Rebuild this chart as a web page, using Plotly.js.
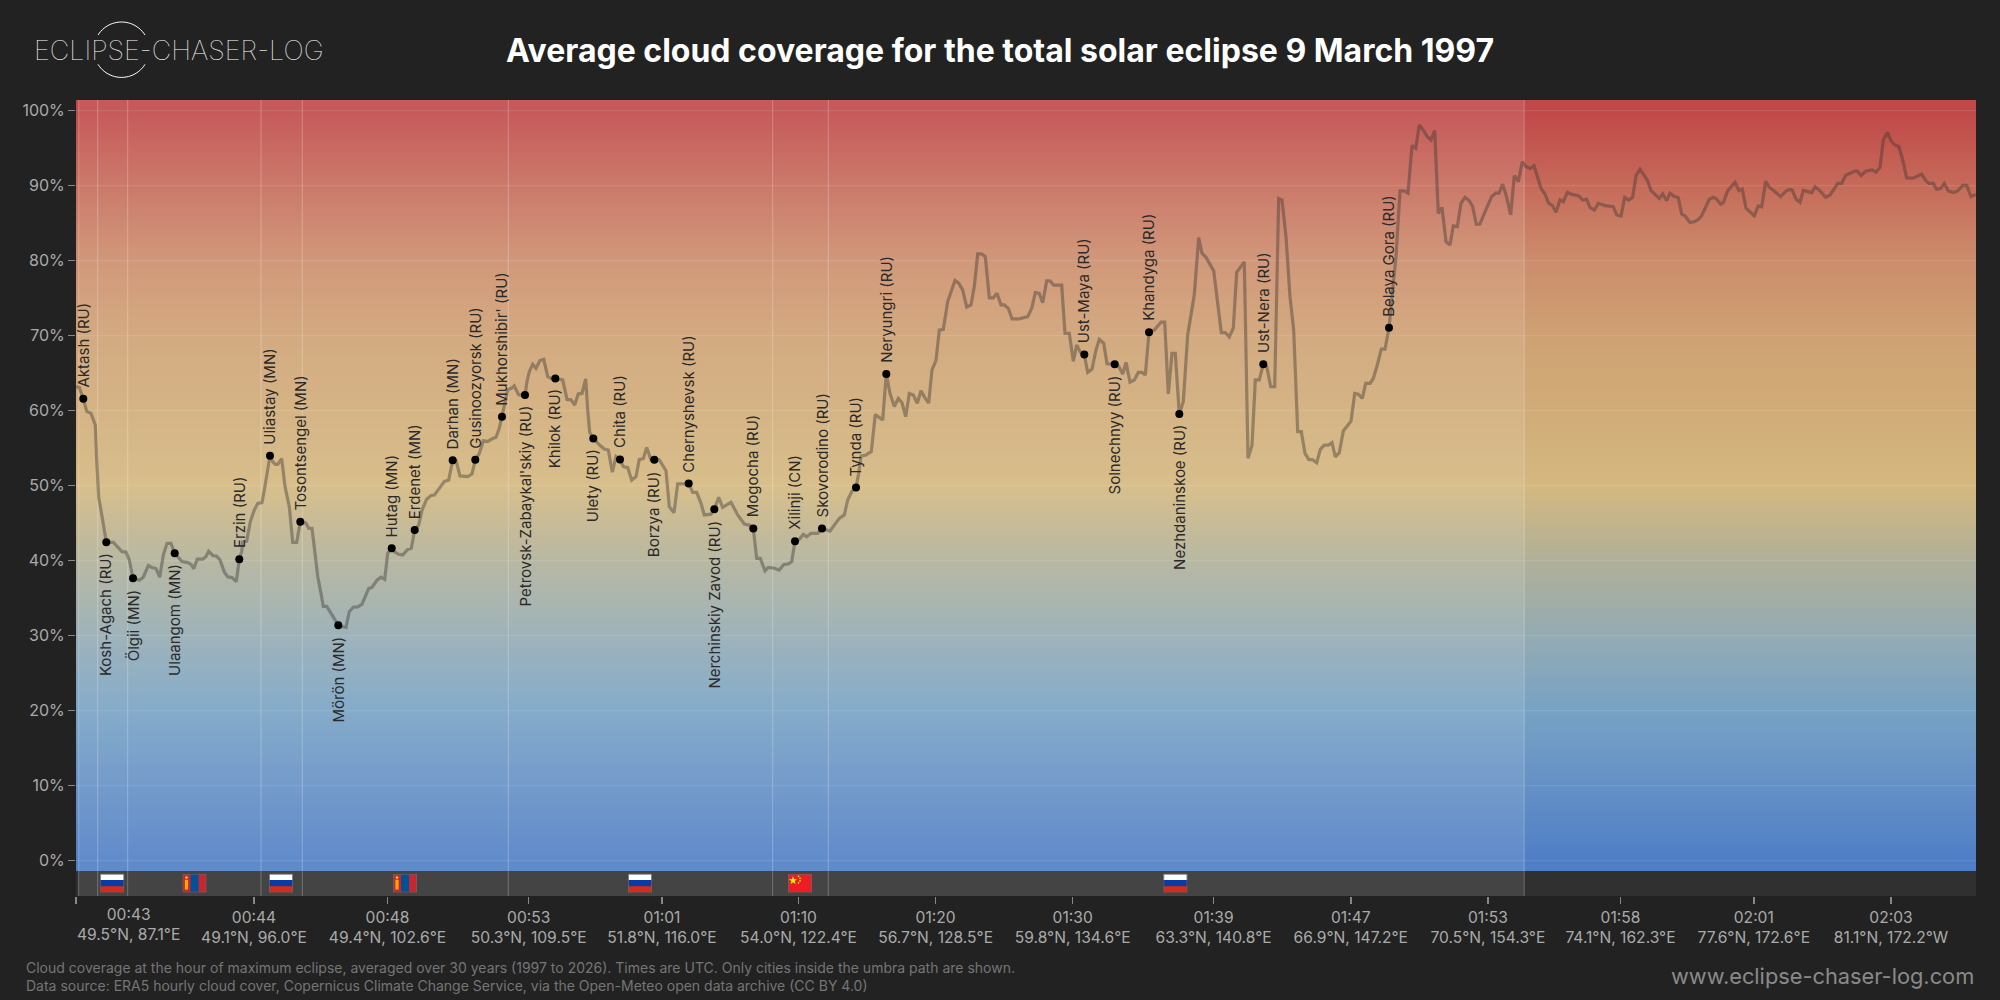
<!DOCTYPE html>
<html><head><meta charset="utf-8">
<script src="https://cdn.plot.ly/plotly-3.0.1.min.js"></script>
<style>html,body{margin:0;padding:0;background:#222}</style></head>
<body><div id="chart" style="width:2000px;height:1000px"></div>
<script>
const pathPos = [0,3.3,7.3,10.7,15,19.3,20.7,22.7,26.7,30.3,37.3,43.3,46,50,53.3,57,63.3,67.3,72.3,76,80,83.7,87.3,91,95,98.7,106,111.7,115,117.7,121.3,126.7,130,132.7,136.7,140.7,144,148.3,151.7,156,160.3,163.3,165.7,166.7,170.7,174.3,178.3,181.7,186,188.3,191.7,194,196.7,199.3,201.7,205.7,209,213.3,216.7,220.7,224.3,230,232.7,236,239,241.7,245,247.3,250.7,255,259.3,262.3,266.7,270,273.3,277.3,281.7,286,292.7,296,301,305,308.7,311.7,315.7,
318.3,322.7,326.7,331.7,335.3,338.7,342.7,346,350.7,355,358.3,363.3,368.3,372.7,376.7,380,384,391.7,396,399.3,403.3,407.3,411.7,416.7,420,423.3,426,428.3,431.7,436.7,438.3,442.7,449,451,453.3,456.7,460,464,467.7,471.7,475,479.3,486.7,491,495,498.7,502.3,506,509.7,511.7,513.7,517.3,523.3,528.3,532.3,536.3,540,544,547.3,551.7,555.7,560,563.3,567.3,570.7,575,578.3,583.3,590,593.3,598,601.7,608.3,612.7,616.7,620.7,625,628.3,635,638.3,
642.7,646.7,655,661.7,668.3,673.3,677.3,680.7,684.3,689,692.3,698.3,703.3,707.7,711.7,715.7,719,723.3,727.3,730.7,735,741.7,746,750,754,758.3,763.3,768.3,771.7,775.7,780,782.7,785,790,795.3,799.3,806.7,810.3,814,818.3,822.3,826,829.7,833.3,837.3,841.3,845,849.3,852.7,856,860,863.3,867.3,871.7,879,882.7,886.7,890.7,895,898.3,901.7,905.7,909.3,913.3,917.3,921,925,928.3,932.3,936,943.3,951.7,955.7,959.3,
963.3,966.7,970.7,974,977.7,985.7,989,993.3,997.3,1000.7,1004.3,1008.3,1011.7,1016,1020,1023.3,1027.7,1031,1035,1038.7,1042.7,1046.7,1050,1054,1058.3,1062.3,1066,1069.3,1073,1078.3,1085,1088.7,1092.3,1096,1099.3,1103.3,1107.3,1111.7,1118.3,1122.7,1126,1130,1137.7,1141.7,1145.3,1149.3,1153.3,1157.3,1160.7,1168.3,1172,1176,1179.3,1183.3,1187.3,1190.7,1194.7,1198.7,1202.7,1206,1210,1214,1217.7,1221.7,1225.3,1229,1232.7,1236.7,1240.7,1244.3,1248.3,1252.3,1256,1259.3,1263.3,1267.3,1275,
1278.7,1282.3,1286.3,1289.7,1294,1297.3,1301.7,1305.3,1309,1313,1316.7,1320,1324,1328,1332,1336,1339.7,1343.3,1347.3,1351.3,1355,1358.7,1362.3,1366,1370,1374,1377.3,1381.3,1385,1389,1393.3,1396.7,1400.3,1404,1408.3,1412.3,1415.7,1419.7,1423,1426.7,1430.7,1434.7,1438.3,1442.3,1446.3,1450,1454,1458,1465,1469,1472.7,1476.3,1480,1484,1487.3,1491.3,1495.7,1503,1506.7,1510.7,1514,1518.3,1522.3,1529,1537.3,1540.7,1545,1548.7,1552.7,1556.7,1560,1564,1571.3,1575,1578.3,1583.3,1586.7,1590.7,1594,
1598,1602.3,1605.7,1609,1614,1618.3,1622.3,1625.7,1633.3,1637.3,1640.7,1644.7,1647.3,1651.7,1659,1663,1666.3,1670,1678.3,1682.3,1685.7,1689.7,1693.3,1697.3,1704.7,1710,1713.3,1716.3,1720,1724,1727.3,1735.7,1739,1743.3,1749.7,1754,1761.7,1765.7,1769.7,1779,1781.3,1785,1789.7,1796.3,1800,1804,1807.3,1811.3,1815,1818.3,1823,1826.7,1830.7,1837.3,1845.7,1850,1853,1857.3,1860.7,1864.7,1868.3,1872.3,1877.3,1881.7,1886.7,1890.7,1895,1899.7];
const cloudCover = [63.2,63.1,61.6,59.9,59.65,58.1,53.4,48.5,45.4,42.45,42.45,41.65,41.2,41.15,40.1,37.65,37.4,37.8,39.35,39.1,38.95,37.8,40.75,42.3,42.3,41,39.9,39.75,39.5,38.95,40.2,40.2,40.55,41.25,40.7,40.6,40.1,38.5,37.85,37.75,37.2,40.2,41.2,42.5,42.6,45.2,46.75,47.65,47.75,49.4,52.3,54,53.2,52.85,52.85,53.6,49.9,47.2,42.45,42.45,45.2,45,44.3,44.3,41,37.9,35.65,33.9,33.9,32.9,31.9,31.4,31.2,31.1,33.2,33.8,33.85,34.2,36.3,36.45,37.4,37.8,37.5,41,41.65,
41.2,40.85,40.75,41.5,41.65,44.1,44.75,46.75,48.2,48.7,48.75,49.65,50.55,50.75,53.4,53.35,51.3,51.2,51.55,53.45,54.3,56,55.9,56.3,56.45,57.65,59.2,60.55,62.75,63.1,63.3,62.1,62.1,63.9,65.2,66.2,65.65,66.7,66.85,64.55,64.3,64.3,64.1,61.5,61.45,60.75,62.25,62.3,64.25,60.1,57.1,56.3,55.45,54.9,54.75,51.8,53.9,53.5,52.55,52.4,50.75,51.2,53.5,53.6,55.1,53.45,53.45,53.45,52,47.2,46.4,50.25,50.25,50.3,49.1,49.1,47.65,46.1,46.2,46.85,
48.45,47.1,47.8,46.1,44.9,44.75,44.3,40.3,40.3,38.65,39.1,39,38.75,39.5,39.55,39.85,42.6,42.85,43.5,43.2,43.65,43.65,44.3,44.1,43.95,44.75,45.65,46.1,48.1,49.2,49.75,51.65,53.95,54.1,54.55,59.5,58.75,64.9,62.3,60.55,61.65,61.05,59.2,62.3,62.1,61,62.65,61.65,61,65.45,66.7,70.75,70.85,74.55,77.35,77,76.1,73.8,74.1,76.55,80.9,80.9,80.55,75.05,75.05,75.65,74.1,74.1,73.65,72.25,72.25,72.55,73.65,75.75,
75.65,74.4,77.3,77.3,76.75,76.75,70.3,70.3,66.6,68.75,67.8,67.5,65.1,65.55,68.1,69.5,69,66.25,66.25,66.2,65.9,64.9,66.45,63.8,64.1,65.1,65.1,64.75,70.45,70.75,71.8,71.8,62.25,67.65,67.65,59.55,61.2,70.1,75.45,83.1,81,80.45,78.65,74.1,70.4,70.4,69.85,71,78.45,79.85,53.65,55.35,64.1,64.1,66.2,65.9,63.2,63.2,88.3,88.1,83.2,75.2,70.75,57.2,57.2,54.3,53.5,53.45,53.05,54.85,55.4,55.4,55.75,53.85,54.4,57.3,58.6,
62.3,62.2,61.65,63.65,63.65,64.3,66.3,68.2,68.2,71.05,76.1,80.55,89.3,89.3,89,95.35,95,98.1,97.4,96.55,96.1,97.35,86.3,87.1,82.55,82.1,84.65,84.55,87.65,88.45,88,87.2,84.85,84.9,86.3,87.65,88.55,89,89,90.2,88.45,86.1,91.35,90.55,93.2,92.55,92.3,92.65,89.65,88.9,87.65,87.4,86.45,88.1,87.85,89.1,88.85,88.65,88.1,88.2,87.1,86.75,87.65,87.35,87.2,86.1,85.95,88.45,88.1,88.45,91.35,92.2,90.75,89.35,88.9,88.3,88.9,88,89,
88.6,88.4,86.2,86,85.1,85.2,85.5,86,88.2,88.45,88.2,87.55,87.75,89.35,90.45,89.35,89.55,87,86,87.3,87.2,90.6,89.8,89.4,88.55,89.3,89.5,89.4,88.2,87.8,89.4,89.05,89.85,89.4,88.45,88.75,90.3,90.3,91.4,91.95,91.95,91.35,91.95,92.1,91.8,92.45,96.1,97.1,96,95.5,95.2,93.4,91.05,91,91.55,90.65,90.3,90.3,89.5,89.65,90.3,89.3,89.1,89.3,90.05,90.05,88.55,88.85];

const cityNames = ["Aktash (RU)","Kosh-Agach (RU)","Ölgii (MN)","Ulaangom (MN)","Erzin (RU)","Uliastay (MN)","Tosontsengel (MN)","Mörön (MN)","Hutag (MN)","Erdenet (MN)","Darhan (MN)","Gusinoozyorsk (RU)","Mukhorshibir' (RU)","Petrovsk-Zabaykal'skiy (RU)","Khilok (RU)","Ulety (RU)","Chita (RU)","Borzya (RU)","Chernyshevsk (RU)","Nerchinskiy Zavod (RU)","Mogocha (RU)","Xilinji (CN)","Skovorodino (RU)","Tynda (RU)","Neryungri (RU)","Ust-Maya (RU)","Solnechnyy (RU)","Khandyga (RU)","Nezhdaninskoe (RU)","Ust-Nera (RU)","Belaya Gora (RU)"];
const cityPos = [7.3,30.3,57,98.7,163.3,194,224.3,262.3,315.7,338.7,376.7,399.3,426,449,479.3,517.3,544,578.3,612.7,638.3,677.3,719,746,780,810.3,1008.3,1038.7,1073,1103.3,1187.3,1313];
const cityCover = [61.6,42.45,37.65,41,40.2,54,45.2,31.4,41.65,44.1,53.4,53.45,59.2,62.1,64.3,56.3,53.5,53.45,50.3,46.85,44.3,42.6,44.3,49.75,64.9,67.5,66.2,70.45,59.55,66.2,71.05];
const cityLabelDown = [0,1,1,1,0,0,0,1,0,0,0,0,0,1,1,1,0,1,0,1,0,0,0,0,0,0,1,0,1,0,0];

const borderPos = [2.7,21.7,51.7,185,226.3,432.3,696.7,752.3,1448.2];
const flagPos = [36.2,118.5,205,329,564,724,1099.4];
const flagCountry = ["ru","mn","ru","mn","ru","cn","ru"];

const xTickPos = [0,178,311.5,452.7,586,722.5,859.6,996.7,1137.6,1274.8,1411.9,1544.5,1677.8,1815];
const xTickTime = ["00:43","00:44","00:48","00:53","01:01","01:10","01:20","01:30","01:39","01:47","01:53","01:58","02:01","02:03"];
const xTickCoord = ["49.5°N, 87.1°E","49.1°N, 96.0°E","49.4°N, 102.6°E","50.3°N, 109.5°E","51.8°N, 116.0°E","54.0°N, 122.4°E","56.7°N, 128.5°E","59.8°N, 134.6°E","63.3°N, 140.8°E","66.9°N, 147.2°E","70.5°N, 154.3°E","74.1°N, 162.3°E","77.6°N, 172.6°E","81.1°N, 172.2°W"];
const yTicks = [0,10,20,30,40,50,60,70,80,90,100];

const gradStops = [0,10,20,30,40,50,60,70,80,90,100];
const gradColors = ["#4F7EC6","#6490C6","#77A2C5","#94ABB3","#B0B099","#D4B87F","#D1AC78","#CFA173","#CC8D6C","#C66B5A","#C04848"];

const FONT = 'Inter, "Noto Sans", sans-serif';
const W = 2000, H = 1000, L = 76, R = 24, T = 100, B = 104;
const yMin = -4.71, yMax = 101.43, stripTop = -1.37, xMax = 1900;
const px = v => (v - L) / (W - L - R), py = v => 1 - (v - T) / (H - T - B);

const flagSvg = {
  ru: '<rect width="24" height="6.33" fill="#fff"/><rect y="6.33" width="24" height="6.34" fill="#0a3aa8"/><rect y="12.67" width="24" height="6.33" fill="#d52b1e"/>',
  mn: '<rect width="24" height="19" fill="#c4272f"/><rect x="8" width="8" height="19" fill="#015197"/><rect x="2.4" y="6" width="3.2" height="10" fill="#f9a602"/><circle cx="4" cy="3.8" r="1.3" fill="#f9cf02"/>',
  cn: '<rect width="24" height="19" fill="#ee1c25"/><polygon points="5,2.5 6,5.6 9.1,5.6 6.6,7.4 7.5,10.4 5,8.6 2.5,10.4 3.4,7.4 0.9,5.6 4,5.6" fill="#ffff00"/><circle cx="10.5" cy="2.5" r=".8" fill="#ff0"/><circle cx="12" cy="4.6" r=".8" fill="#ff0"/><circle cx="12" cy="7.2" r=".8" fill="#ff0"/><circle cx="10.5" cy="9.3" r=".8" fill="#ff0"/>'
};
const flagUrl = c => 'data:image/svg+xml;utf8,' + encodeURIComponent(
  '<svg xmlns="http://www.w3.org/2000/svg" width="240" height="190" viewBox="0 0 24 19" preserveAspectRatio="none">' + flagSvg[c] +
  '<rect x=".4" y=".4" width="23.2" height="18.2" fill="none" stroke="#666" stroke-width=".8"/></svg>');

const box = (x0, x1, y0, y1, c) => ({type:'scatter', mode:'none', x:[x0,x1,x1,x0,x0], y:[y0,y0,y1,y1,y0], fill:'toself', fillcolor:c, hoverinfo:'skip', showlegend:false});
const gridX = [], gridY = [];
yTicks.forEach(t => { gridX.push(0, xMax, null); gridY.push(t, t, null); });
const borderX = [], borderY = [];
borderPos.forEach(b => { borderX.push(b, b, null); borderY.push(yMin, yMax, null); });

const traces = [
  {type:'heatmap', x:[-10, xMax + 10], y:[-6].concat(gradStops, [106]),
   z:[-6].concat(gradStops, [106]).map(v => { const c = Math.max(0, Math.min(100, v)); return [c, c]; }),
   zmin:0, zmax:100, zsmooth:'best', showscale:false, hoverinfo:'skip',
   colorscale:gradStops.map((s, i) => [s / 100, gradColors[i]])},
  box(0, xMax, yMin, stripTop, '#303030'),
  box(borderPos[0], borderPos[8], yMin, stripTop, '#444444'),
  box(borderPos[0], borderPos[8], stripTop, yMax, 'rgba(255,255,255,0.1)'),
  {type:'scatter', mode:'lines', x:gridX, y:gridY, line:{color:'rgba(255,255,255,0.12)', width:1}, hoverinfo:'skip', showlegend:false},
  {type:'scatter', mode:'lines', x:borderX, y:borderY, line:{color:'rgba(255,255,255,0.25)', width:1}, hoverinfo:'skip', showlegend:false},
  {type:'scatter', mode:'lines', x:pathPos, y:cloudCover, line:{color:'rgba(60,55,50,0.42)', width:3.2}, hoverinfo:'skip', showlegend:false},
  {type:'scatter', mode:'markers', x:cityPos, y:cityCover, marker:{color:'#000', size:8}, text:cityNames, showlegend:false}
];

const arcPts = (a0, a1) => { let s = ''; for (let i = 0; i <= 24; i++) { const a = (a0 + (a1 - a0) * i / 24) * Math.PI / 180;
  s += (i ? ' L ' : 'M ') + px(121.5 + 27.7 * Math.cos(a)).toFixed(5) + ' ' + py(49.7 - 27.7 * Math.sin(a)).toFixed(5); } return s; };
const shapes = [[32, 148], [212, 328]].map(r => ({type:'path', xref:'paper', yref:'paper', path:arcPts(r[0], r[1]), line:{color:'#fff', width:1}}));

const annotations = cityNames.map((n, i) => ({
  x:cityPos[i], y:cityCover[i], xref:'x', yref:'y', text:n, showarrow:false, textangle:-90,
  xanchor:'center', yanchor:cityLabelDown[i] ? 'top' : 'bottom', yshift:cityLabelDown[i] ? -9 : 9,
  font:{family:FONT, size:15, color:'#2a2a2a'}
}));
annotations.push(
  {x:52, y:py(903), xref:'x', yref:'paper', yanchor:'top', xanchor:'center', showarrow:false,
   text:xTickTime[0] + '<br>' + xTickCoord[0], font:{family:FONT, size:15.6, color:'#aaa'}},
  {x:px(32), y:py(50), xref:'paper', yref:'paper', xanchor:'left', yanchor:'middle', showarrow:false,
   text:'ECLIPSE-CHASER-LOG', font:{family:FONT, size:27, color:'#fff', weight:100}},
  {x:px(24), y:py(976), xref:'paper', yref:'paper', xanchor:'left', yanchor:'middle', align:'left', showarrow:false,
   text:'Cloud coverage at the hour of maximum eclipse, averaged over 30 years (1997 to 2026). Times are UTC. Only cities inside the umbra path are shown.<br>Data source: ERA5 hourly cloud cover, Copernicus Climate Change Service, via the Open-Meteo open data archive (CC BY 4.0)',
   font:{family:FONT, size:14, color:'#757575'}},
  {x:px(1976), y:py(976), xref:'paper', yref:'paper', xanchor:'right', yanchor:'middle', showarrow:false,
   text:'www.eclipse-chaser-log.com', font:{family:FONT, size:21.8, color:'#8a8a8a'}}
);

const layout = {
  width:W, height:H, paper_bgcolor:'#222222', plot_bgcolor:'#222222',
  margin:{l:L, r:R, t:T, b:B, pad:0}, showlegend:false,
  title:{text:'Average cloud coverage for the total solar eclipse 9 March 1997', x:0.5, xref:'container', xanchor:'center', y:0.949, yanchor:'middle', yref:'container',
    font:{family:FONT, size:32, color:'#fff', weight:700}},
  xaxis:{range:[0, xMax], showgrid:false, zeroline:false, showline:false, ticks:'outside', ticklen:7, tickwidth:1.5, tickcolor:'#888',
    tickmode:'array', tickvals:xTickPos, ticktext:xTickTime.map((t, i) => i ? t + '<br>' + xTickCoord[i] : ''), tickangle:0,
    tickfont:{family:FONT, size:15.6, color:'#aaa'}, fixedrange:true},
  yaxis:{range:[yMin, yMax], showgrid:false, zeroline:false, showline:false, ticks:'outside', ticklen:7, tickwidth:1.5, tickcolor:'#888',
    tickmode:'array', tickvals:yTicks, ticktext:yTicks.map(t => t + '%'),
    tickfont:{family:FONT, size:16, color:'#aaa'}, fixedrange:true},
  shapes, annotations,
  images:flagPos.map((x, i) => ({source:flagUrl(flagCountry[i]), xref:'x', yref:'y', x, y:-3.0, sizex:24, sizey:2.5, xanchor:'center', yanchor:'middle', sizing:'stretch', layer:'above'}))
};
Plotly.newPlot('chart', traces, layout, {displayModeBar:false, staticPlot:true});
</script></body></html>
